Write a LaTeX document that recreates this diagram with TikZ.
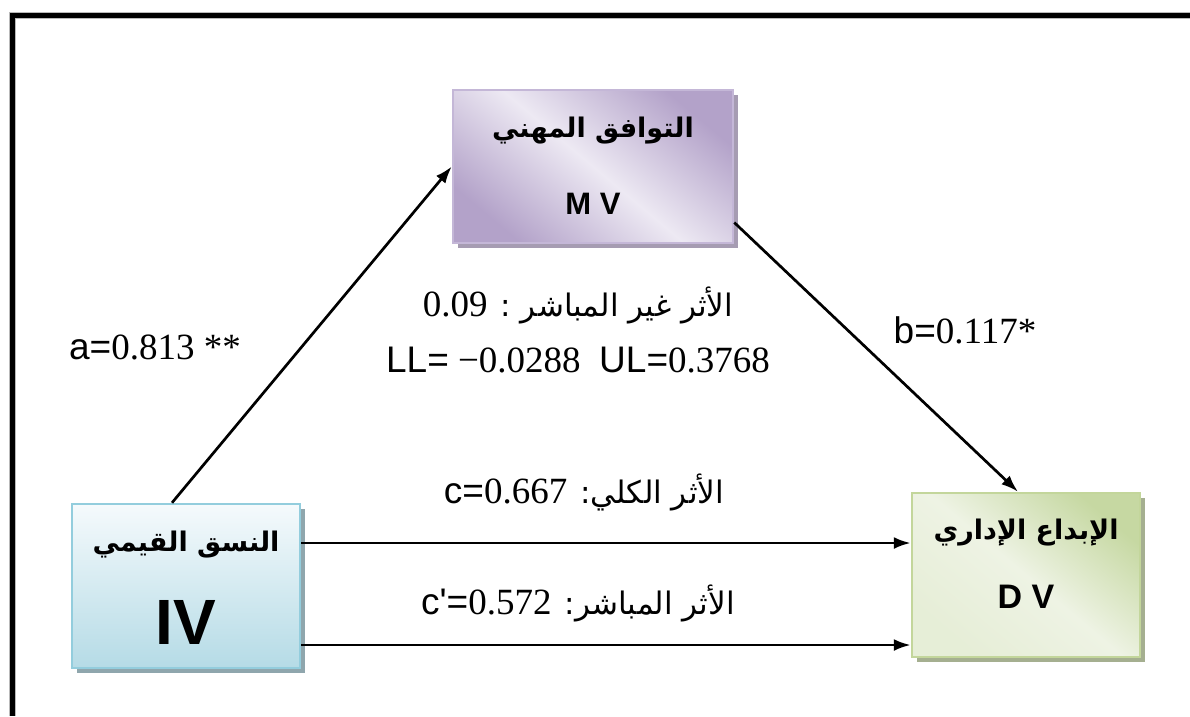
\documentclass[tikz,border=0pt]{standalone}
\usepackage{fontspec}
\setmainfont{Liberation Serif}
\setsansfont{Liberation Sans}
\newfontfamily\arabicfont[Script=Arabic]{DejaVu Sans}
\TeXXeTstate=1
\usetikzlibrary{shadows,arrows.meta,calc}
\definecolor{mvdark}{HTML}{B3A2C9}
\definecolor{mvlight}{HTML}{EDE9F3}
\definecolor{mvborder}{HTML}{C4B7D7}
\definecolor{mvshadow}{HTML}{A69CB2}
\definecolor{ivtop}{HTML}{F5FAFC}
\definecolor{ivbot}{HTML}{B5DBE6}
\definecolor{ivborder}{HTML}{93CDDD}
\definecolor{ivshadow}{HTML}{8FA6AD}
\definecolor{dvdark}{HTML}{C6D8A2}
\definecolor{dvlight}{HTML}{EEF3E4}
\definecolor{dvborder}{HTML}{C3D69B}
\definecolor{dvshadow}{HTML}{A5AF90}
\newcommand\latsize{\fontsize{37}{42}\selectfont}
\begin{document}
\begin{tikzpicture}[x=1pt,y=-1pt,
  varbox/.style={draw, line width=2.5pt, inner sep=0pt},
  arr/.style={line width=2.7pt, -{Latex[length=17pt,width=12pt]}},
  ttl/.style={font=\arabicfont\bfseries\fontsize{27}{32}\selectfont, inner sep=0pt},
  code/.style={font=\sffamily\bfseries, inner sep=0pt},
  lbl/.style={font=\rmfamily\latsize, inner sep=0pt},
  arlbl/.style={font=\arabicfont\fontsize{31}{36}\selectfont, inner sep=0pt}]
\useasboundingbox (0,0) rectangle (1190,716);
\fill[white] (0,0) rectangle (1190,716);
% frame
\fill[gray!55] (9,12) rectangle (1190,19);
\fill[gray!55] (9,12) rectangle (16,716);
\fill[black] (10,13) rectangle (1190,18);
\fill[black] (10,13) rectangle (15,716);
% boxes
\node[varbox, draw=mvborder, minimum width=280pt, minimum height=153pt,
  top color=mvdark, bottom color=mvdark, middle color=mvlight, shading angle=-40,
  drop shadow={shadow xshift=5pt, shadow yshift=-5pt, fill=mvshadow, opacity=1}]
  (mv) at (593,166.5) {};
\node[varbox, draw=ivborder, minimum width=228pt, minimum height=164pt,
  top color=ivtop, bottom color=ivbot,
  drop shadow={shadow xshift=5pt, shadow yshift=-5pt, fill=ivshadow, opacity=1}]
  (iv) at (186,586) {};
\node[varbox, draw=dvborder, minimum width=228pt, minimum height=164pt,
  top color=dvdark, bottom color=dvlight!80!dvdark, middle color=dvlight, shading angle=-40,
  drop shadow={shadow xshift=5pt, shadow yshift=-5pt, fill=dvshadow, opacity=1}]
  (dv) at (1026,575) {};
% box texts
\node[ttl] (mvt) at ($(mv.center)+(0,-36)$) {\beginR التوافق المهني\endR};
\node[code, font=\sffamily\bfseries\fontsize{31}{34}\selectfont] (mvc) at ($(mv.center)+(0,37)$) {M V};
\node[ttl] (ivt) at ($(iv.center)+(0,-41)$) {\beginR النسق القيمي\endR};
\node[code, font=\sffamily\bfseries\fontsize{64}{70}\selectfont] (ivc) at ($(iv.center)+(0,36)$) {IV};
\node[ttl] (dvt) at ($(dv.center)+(0,-42)$) {\beginR الإبداع الإداري\endR};
\node[code, font=\sffamily\bfseries\fontsize{34}{38}\selectfont] (dvc) at ($(dv.center)+(0,22)$) {D V};
% connectors
\draw[arr] ([xshift=-14pt]iv.north) -- (mv.west);
\draw[arr] ([yshift=-56pt]mv.east) -- ([xshift=-8pt]dv.north);
\coordinate (c1) at ([yshift=43pt]iv.east);
\coordinate (c2) at ([yshift=-59pt]iv.east);
\draw[arr] (c1) -- (c1 -| dv.west);
\draw[arr] (c2) -- (c2 -| dv.west);
% labels
\node[lbl] (la) at (155,347) {{\sffamily a=}0.813 **};
\node[lbl] (lb) at (965,330) {{\sffamily b=}0.117*};
\node[arlbl] (lind) at (578,305)
  {\beginR الأثر غير المباشر : \beginL{\rmfamily\latsize 0.09}\endL\endR};
\node[lbl] (lci) at (578,360) {{\sffamily LL=} −0.0288\ \ {\sffamily UL=}0.3768};
\node[arlbl] (lc) at (584,492)
  {\beginR الأثر الكلي: \beginL{\rmfamily\latsize{\sffamily c=}0.667}\endL\endR};
\node[arlbl] (lcp) at (578,603)
  {\beginR الأثر المباشر: \beginL{\rmfamily\latsize{\sffamily c\textquotesingle=}0.572}\endL\endR};
\end{tikzpicture}
\end{document}
